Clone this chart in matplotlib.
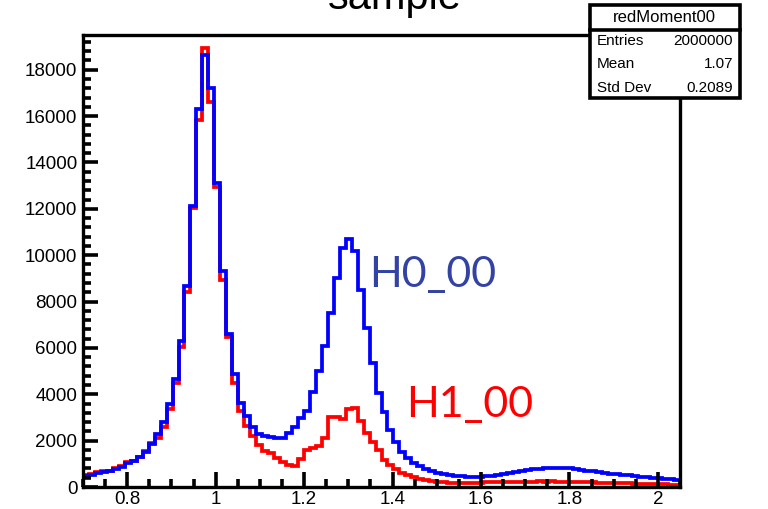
import numpy as np
import matplotlib.pyplot as plt
from matplotlib.patches import Rectangle
from matplotlib.ticker import MultipleLocator, FormatStrFormatter

# redMoment00: 100 bins between 0.7 and 2.05
x_lo, x_hi, n_bins = 0.7, 2.05, 100

h0_00 = [475, 530, 590, 650, 690, 770, 880, 1040, 1140, 1310,
         1530, 1850, 2290, 2790, 3590, 4670, 6300, 8680, 12140, 16300,
         18650, 17200, 13100, 9300, 6600, 4870, 3630, 3050, 2600, 2270,
         2200, 2150, 2100, 2130, 2320, 2610, 2970, 3260, 4120, 4990,
         6070, 7510, 9030, 10330, 10690, 10180, 8520, 6870, 5350, 4050,
         3220, 2470, 1960, 1500, 1250, 1050, 900, 780, 680, 600,
         550, 510, 480, 460, 440, 440, 450, 470, 490, 520,
         550, 590, 630, 680, 720, 760, 790, 820, 830, 830,
         820, 800, 780, 740, 710, 680, 650, 610, 580, 550,
         520, 500, 470, 450, 430, 400, 380, 360, 340, 320]

h1_00 = [500, 560, 640, 680, 700, 800, 900, 1100, 1120, 1300,
         1560, 1900, 2100, 2600, 3350, 4500, 6050, 8420, 12050, 15850,
         18950, 16600, 12950, 8950, 6450, 4500, 3300, 2650, 2200, 1800,
         1550, 1450, 1240, 1100, 950, 910, 1200, 1600, 1700, 1770,
         2100, 3040, 3010, 2940, 3360, 3400, 2830, 2320, 1960, 1600,
         1170, 950, 760, 620, 520, 430, 360, 300, 260, 230,
         210, 180, 190, 175, 185, 190, 180, 200, 195, 205,
         210, 220, 210, 230, 220, 235, 240, 230, 240, 235,
         225, 230, 215, 205, 210, 195, 185, 175, 180, 165,
         155, 160, 145, 135, 140, 125, 115, 120, 105, 100]

stats_title = "redMoment00"
stats_rows = [("Entries", "2000000"), ("Mean", "1.07"), ("Std Dev", "0.2089")]

plt.rcParams['font.family'] = ['Liberation Sans', 'DejaVu Sans']

W, H = 768, 509
fig = plt.figure(figsize=(W / 100, H / 100), dpi=100)
ax = fig.add_axes([83 / W, 1 - 487 / H, (680 - 83) / W, (487 - 35) / H])

edges = np.linspace(x_lo, x_hi, n_bins + 1)
ax.stairs(h1_00, edges, color='#ff0000', lw=2.7, baseline=None)
ax.stairs(h0_00, edges, color='#0000ff', lw=2.7, baseline=None)

ax.set_xlim(x_lo, x_hi)
ax.set_ylim(0, 19500)

for s in ax.spines.values():
    s.set_linewidth(2.4)

ax.xaxis.set_major_locator(MultipleLocator(0.2))
ax.xaxis.set_minor_locator(MultipleLocator(0.05))
ax.xaxis.set_major_formatter(FormatStrFormatter('%g'))
ax.yaxis.set_major_locator(MultipleLocator(2000))
ax.yaxis.set_minor_locator(MultipleLocator(400))
ax.tick_params(which='both', direction='in', top=False, right=False, width=2.6,
               labelsize=13.5, colors='black')
ax.tick_params(which='major', length=11)
ax.tick_params(which='minor', length=5.5)
ax.tick_params(axis='x', pad=3)
ax.tick_params(axis='y', pad=4)

ax.text(1.346, 8610, "H0_00", color='#3343a3', fontsize=31, family='Lato', va='baseline')
ax.text(1.43, 3030, "H1_00", color='#ff0000', fontsize=31, family='Lato', va='baseline')

fig.text(395 / W, 1 - 9 / H, "sample", fontsize=30, ha='center', va='baseline')

# stats box in the top right corner, over the frame
def px(x, y):
    return x / W, 1 - y / H

bx0, bx1, by0, by1, bsep = 590, 740, 5, 98, 30
fig.patches.append(Rectangle(px(bx0, by1), (bx1 - bx0) / W, (by1 - by0) / H,
                             transform=fig.transFigure, facecolor='white',
                             edgecolor='black', lw=2.6, zorder=5))
fig.lines.append(plt.Line2D([bx0 / W, bx1 / W], [1 - bsep / H] * 2,
                            transform=fig.transFigure, color='black', lw=2.6, zorder=6))
fig.text(*px(664, 18), stats_title, fontsize=12, ha='center', va='center', zorder=7)
for i, (name, val) in enumerate(stats_rows):
    y = 41 + i * 23.5
    fig.text(*px(597, y), name, fontsize=11, ha='left', va='center', zorder=7)
    fig.text(*px(733, y), val, fontsize=11, ha='right', va='center', zorder=7)

fig.savefig("out.png", dpi=100)
